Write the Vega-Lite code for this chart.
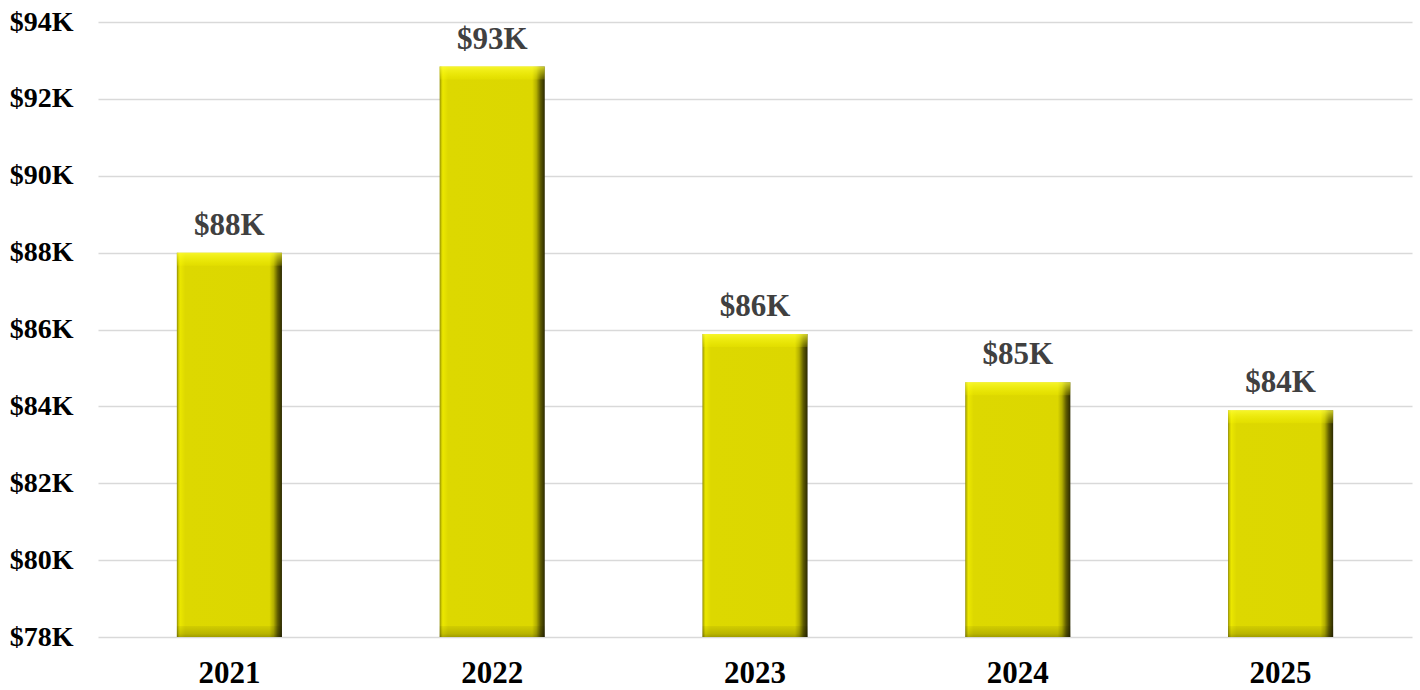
{
  "$schema": "https://vega.github.io/schema/vega-lite/v6.json",
  "width": 1314,
  "height": 615,
  "autosize": {"type": "none"},
  "padding": {"left": 98, "top": 22, "right": 8, "bottom": 53},
  "background": "white",
  "config": {"view": {"stroke": null}},
  "data": {
    "values": [
      {"year": "2021", "value": 88.0, "label": "$88K"},
      {"year": "2022", "value": 92.84, "label": "$93K"},
      {"year": "2023", "value": 85.88, "label": "$86K"},
      {"year": "2024", "value": 84.63, "label": "$85K"},
      {"year": "2025", "value": 83.9, "label": "$84K"}
    ]
  },
  "encoding": {
    "x": {
      "field": "year", "type": "ordinal",
      "scale": {"paddingInner": 0.6, "paddingOuter": 0.3},
      "axis": {
        "title": null, "labelAngle": 0, "domain": false, "ticks": false,
        "labelFont": "Liberation Serif", "labelFontWeight": "bold", "labelFontSize": 31,
        "labelColor": "#000000", "labelPadding": 21
      }
    }
  },
  "layer": [
    {
      "mark": {
        "type": "bar",
        "color": {
          "gradient": "linear", "x1": 0, "x2": 1, "y1": 0, "y2": 0,
          "stops": [
            {"offset": 0, "color": "#8f8b00"},
            {"offset": 0.015, "color": "#c9c500"},
            {"offset": 0.03, "color": "#ebe700"},
            {"offset": 0.08, "color": "#ddd800"},
            {"offset": 0.88, "color": "#dcd700"},
            {"offset": 0.92, "color": "#b3af00"},
            {"offset": 0.96, "color": "#5e5b00"},
            {"offset": 1, "color": "#2b2900"}
          ]
        }
      },
      "encoding": {
        "y": {
          "field": "value", "type": "quantitative",
          "scale": {"domain": [78, 94], "nice": false, "zero": false},
          "axis": {
            "title": null, "values": [78, 80, 82, 84, 86, 88, 90, 92, 94],
            "labelExpr": "'$' + datum.value + 'K'",
            "domain": false, "ticks": false, "labelPadding": 25,
            "labelFont": "Liberation Serif", "labelFontWeight": "bold", "labelFontSize": 28,
            "labelColor": "#000000",
            "gridColor": "#d9d9d9", "gridWidth": 1.5
          }
        },
        "y2": {"datum": 78}
      }
    },
    {
      "mark": {
        "type": "bar", "y2Offset": 13,
        "color": {
          "gradient": "linear", "x1": 0, "x2": 0, "y1": 0, "y2": 1,
          "stops": [
            {"offset": 0, "color": "rgba(255,255,60,0.75)"},
            {"offset": 0.3, "color": "rgba(255,255,40,0.55)"},
            {"offset": 1, "color": "rgba(255,255,0,0.15)"}
          ]
        }
      },
      "encoding": {
        "y": {"field": "value", "type": "quantitative"},
        "y2": {"field": "value"}
      }
    },
    {
      "mark": {
        "type": "bar", "y2Offset": -11,
        "color": {
          "gradient": "linear", "x1": 0, "x2": 0, "y1": 0, "y2": 1,
          "stops": [
            {"offset": 0, "color": "rgba(0,0,0,0.05)"},
            {"offset": 0.7, "color": "rgba(0,0,0,0.16)"},
            {"offset": 1, "color": "rgba(0,0,0,0.28)"}
          ]
        }
      },
      "encoding": {
        "y": {"datum": 78},
        "y2": {"datum": 78}
      }
    },
    {
      "mark": {
        "type": "text", "baseline": "alphabetic", "dy": -18,
        "font": "Liberation Serif", "fontWeight": "bold", "fontSize": 31, "color": "#404040"
      },
      "encoding": {
        "y": {"field": "value", "type": "quantitative"},
        "text": {"field": "label"}
      }
    }
  ]
}
